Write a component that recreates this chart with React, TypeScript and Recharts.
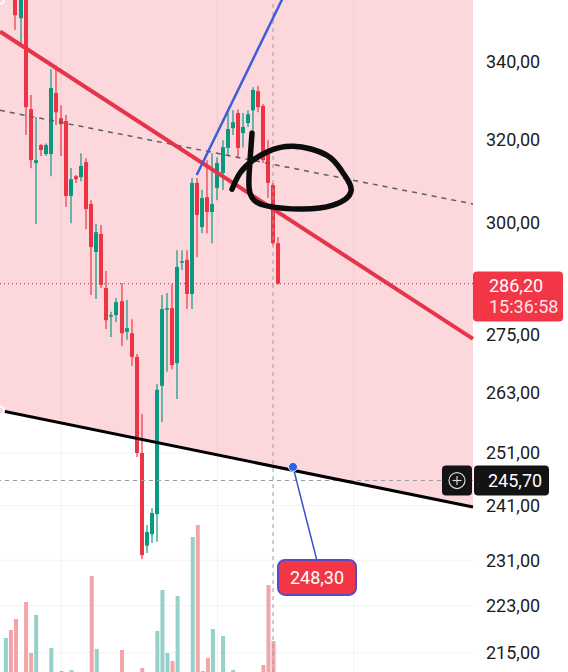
import React from "react";
import {
  ComposedChart,
  Bar,
  Area,
  Line,
  Cell,
  XAxis,
  YAxis,
  CartesianGrid,
  ReferenceLine,
  ReferenceDot,
} from "recharts";

const UP = "#089981";
const DOWN = "#ee3444";
const VOL_UP = "#95d1c9";
const VOL_DOWN = "#f1a5a9";
const BAND = "#fcd8dc";

// candles, oldest first (the first two sit above the visible price range)
const FIRST_INDEX = -2;
const OPEN = [
  366.0, 369.5, 361.0, 351.5, 357.5, 327.6, 314.2, 318.6, 316.4, 316.4, 331.7, 325.3, 324.6, 306.3,
  311.0, 310.8, 314.4, 304.4, 293.3, 297.4, 285.2, 279.1, 279.3, 282.3, 275.7, 275.4, 270.4, 251.0,
  233.6, 235.7, 239.4, 264.4, 280.6, 280.8, 269.1, 291.0, 291.5, 283.9, 309.4, 299.0, 306.0, 302.5,
  308.2, 311.8, 317.9, 322.8, 326.6, 321.6, 324.1, 327.3, 332.2, 328.4, 317.4, 308.9, 295.3,
];
const HIGH = [
  372.0, 371.0, 363.5, 360.0, 359.5, 331.2, 325.6, 318.9, 319.0, 337.9, 338.9, 328.6, 326.1, 313.0,
  311.3, 316.6, 315.4, 305.3, 299.7, 299.5, 289.0, 280.0, 283.0, 286.3, 282.6, 278.4, 271.0, 258.7,
  237.4, 240.5, 264.8, 283.7, 284.1, 286.1, 293.7, 293.7, 293.7, 310.6, 310.6, 307.7, 314.9, 316.6,
  315.6, 319.8, 326.6, 327.3, 327.5, 326.6, 327.3, 333.2, 333.5, 328.9, 319.8, 309.4, 296.7,
];
const LOW = [
  360.5, 358.0, 348.3, 344.2, 321.1, 313.0, 299.7, 315.9, 316.0, 311.0, 323.6, 315.9, 303.7, 299.9,
  309.4, 309.8, 298.5, 283.7, 282.8, 285.2, 276.3, 274.6, 277.8, 272.7, 274.0, 268.5, 250.2, 231.2,
  232.3, 234.1, 234.3, 257.1, 267.3, 267.8, 261.7, 289.2, 280.6, 280.6, 292.1, 297.6, 297.6, 295.3,
  305.3, 307.7, 316.1, 321.1, 315.6, 318.0, 323.1, 322.3, 326.8, 314.2, 305.8, 294.8, 286.0,
];
const CLOSE = [
  369.0, 360.0, 352.3, 358.0, 328.1, 314.9, 314.9, 317.4, 318.6, 333.0, 326.8, 323.8, 306.3, 310.3,
  310.3, 313.5, 303.2, 294.4, 297.8, 285.9, 278.2, 279.3, 282.1, 275.4, 276.5, 270.4, 251.0, 231.9,
  236.1, 239.6, 263.6, 280.6, 280.8, 268.7, 289.9, 291.2, 283.9, 309.4, 301.8, 305.8, 302.5, 304.4,
  314.2, 318.1, 322.6, 324.3, 317.9, 323.1, 326.3, 332.5, 328.1, 314.9, 309.4, 295.3, 286.2,
];
const VOLUME = [
  82, 90, 101, 30, 118, 67, 105, 35, 28, 72, 40, 49, 44, 50, 30, 25, 38, 144, 71, 42, 40, 22, 30, 70,
  28, 45, 46, 52, 35, 38, 89, 130, 67, 59, 124, 30, 45, 183, 195, 49, 62, 91, 42, 84, 40, 50, 44, 35,
  30, 46, 40, 55, 135, 79, 30,
];

const PRICE_DOMAIN = [204.1, 356.5];
const PRICE_TICKS = [340, 320, 300, 275, 263, 251, 241, 231, 223, 215];
const X_DOMAIN = [-3.07, 90.59];
const VOLUME_DOMAIN = [0, 720];
const GRID_X = [9, 40, 67];

// drawn trend lines: [bar index, price]
const RESISTANCE = [[-3.07, 347.9], [90.59, 274.2]];
const SUPPORT = [[-3.07, 259.4], [90.59, 240.7]];
const MIDLINE = [[-3.07, 327.3], [90.59, 304.4]];
const RISE = [[35.88, 311.3], [54.63, 362.0]];

const LAST_PRICE = 286.2;
const COUNTDOWN = "15:36:58";
const CROSS_PRICE = 245.7;
const CROSS_INDEX = 51;
const CALLOUT = { i: 54.95, price: 248.3 };

// hand-drawn loop
const SCRIBBLE_X = [46.83, 46.44, 46.24, 47.23, 50.0, 56.34, 62.87, 66.44, 64.85, 61.68, 54.95, 49.8, 46.83, 44.46, 42.87];
const SCRIBBLE_P = [321.6, 314.9, 308.4, 305.3, 303.9, 303.2, 304.1, 307.4, 311.8, 316.1, 318.3, 316.9, 314.7, 311.8, 307.9];

const CANDLES = OPEN.map((open, k) => ({
  i: k + FIRST_INDEX,
  open,
  high: HIGH[k],
  low: LOW[k],
  close: CLOSE[k],
  range: [LOW[k], HIGH[k]],
  volume: VOLUME[k],
}));

const BAND_DATA = SUPPORT.map(([i, p]) => ({ i, band: [p, PRICE_DOMAIN[1]] }));
const SCRIBBLE = SCRIBBLE_X.map((i, k) => ({ i, price: SCRIBBLE_P[k] }));

const fmt = (v: number) => v.toFixed(2).replace(".", ",");
const seg = (pts: number[][]) => pts.map(([x, y]) => ({ x, y }));

const Candle = (props: any) => {
  const { x, y, width, height, payload } = props;
  const { open, close, high, low } = payload;
  const color = close >= open ? UP : DOWN;
  const lh = Math.log(high);
  const ll = Math.log(low);
  const toY = (v: number) => (lh === ll ? y : y + (height * (lh - Math.log(v))) / (lh - ll));
  const top = toY(Math.max(open, close));
  const bottom = toY(Math.min(open, close));
  const bw = Math.max(4, Math.round(width));
  const bx = Math.round(x + width / 2 - bw / 2);
  return (
    <g>
      <line x1={bx + bw / 2} x2={bx + bw / 2} y1={y} y2={y + height} stroke={color} strokeWidth={1.2} />
      <rect x={bx} y={top} width={bw} height={Math.max(1.5, bottom - top)} fill={color} />
    </g>
  );
};

const LastPriceTag = ({ viewBox }: any) => {
  const right = viewBox.x + viewBox.width;
  const y = viewBox.y;
  return (
    <g>
      <rect x={right} y={y - 12} width={90} height={50} rx={4} fill="#f23645" />
      <text x={right + 16} y={y + 2} dominantBaseline="central" fill="#fff" fontSize={18}>
        {fmt(LAST_PRICE)}
      </text>
      <text x={right + 16} y={y + 23} dominantBaseline="central" fill="#fde3e5" fontSize={18}>
        {COUNTDOWN}
      </text>
    </g>
  );
};

const CrossTag = ({ viewBox }: any) => {
  const right = viewBox.x + viewBox.width;
  const y = viewBox.y;
  return (
    <g>
      <rect x={right - 31} y={y - 15} width={30} height={30} rx={4} fill="#131313" />
      <circle cx={right - 16} cy={y} r={8} fill="none" stroke="#d8d8d8" strokeWidth={1.2} />
      <line x1={right - 20.5} x2={right - 11.5} y1={y} y2={y} stroke="#d8d8d8" strokeWidth={1.2} />
      <line x1={right - 16} x2={right - 16} y1={y - 4.5} y2={y + 4.5} stroke="#d8d8d8" strokeWidth={1.2} />
      <rect x={right + 1} y={y - 15} width={75} height={30} rx={4} fill="#131313" />
      <text x={right + 15} y={y} dominantBaseline="central" fill="#fff" fontSize={18}>
        {fmt(CROSS_PRICE)}
      </text>
    </g>
  );
};

const Callout = ({ cx, cy }: any) => (
  <g>
    <line x1={cx} y1={cy} x2={cx + 24} y2={cy + 94} stroke="#3552c8" strokeWidth={1.5} />
    <rect x={cx - 15} y={cy + 93} width={78} height={35} rx={7} fill="#f23645" stroke="#5a4bbf" strokeWidth={2} />
    <text x={cx + 24} y={cy + 111} textAnchor="middle" dominantBaseline="central" fill="#fff" fontSize={18}>
      {fmt(CALLOUT.price)}
    </text>
    <circle cx={cx} cy={cy} r={4.5} fill="#2f62e6" stroke="#e8eeff" strokeWidth={1} />
  </g>
);

export default function App() {
  return (
    <div style={{ position: "fixed", left: 0, top: 0, width: 568, height: 672, overflow: "hidden", background: "#fff" }}>
      <ComposedChart
        width={568}
        height={720}
        data={CANDLES}
        margin={{ top: 0, right: 0, bottom: 0, left: 0 }}
        style={{ fontFamily: "Roboto, sans-serif" }}
      >
        <XAxis xAxisId="x" dataKey="i" type="number" domain={X_DOMAIN} allowDataOverflow hide />
        <XAxis xAxisId="xv" dataKey="i" type="number" domain={X_DOMAIN} allowDataOverflow hide />
        <YAxis
          yAxisId="p"
          orientation="right"
          scale="log"
          domain={PRICE_DOMAIN}
          allowDataOverflow
          ticks={PRICE_TICKS}
          interval={0}
          tickFormatter={fmt}
          width={95}
          axisLine={false}
          tickLine={false}
          tickSize={0}
          tickMargin={13}
          tick={{ fill: "#1c1c1c", fontSize: 18 }}
        />
        <YAxis yAxisId="v" hide domain={VOLUME_DOMAIN} allowDataOverflow />

        <Area
          xAxisId="x"
          yAxisId="p"
          data={BAND_DATA}
          dataKey="band"
          type="linear"
          fill={BAND}
          fillOpacity={1}
          stroke="none"
          isAnimationActive={false}
        />
        <CartesianGrid xAxisId="x" yAxisId="p" vertical={false} stroke="rgba(0,0,0,0.05)" />
        {GRID_X.map((gx) => (
          <ReferenceLine key={gx} xAxisId="x" yAxisId="p" x={gx} stroke="rgba(0,0,0,0.05)" />
        ))}
        <ReferenceLine xAxisId="x" yAxisId="p" x={CROSS_INDEX} stroke="#9a9ca3" strokeDasharray="4 4" />
        <ReferenceLine
          xAxisId="x"
          yAxisId="p"
          y={CROSS_PRICE}
          stroke="#9a9ca3"
          strokeDasharray="4 4"
          label={<CrossTag />}
        />

        <Bar xAxisId="xv" yAxisId="v" dataKey="volume" barSize={4} isAnimationActive={false}>
          {CANDLES.map((d) => (
            <Cell key={d.i} fill={d.close >= d.open ? VOL_UP : VOL_DOWN} />
          ))}
        </Bar>
        <Bar xAxisId="x" yAxisId="p" dataKey="range" barSize={4} shape={Candle} isAnimationActive={false} />

        <ReferenceLine xAxisId="x" yAxisId="p" segment={seg(MIDLINE)} ifOverflow="visible" stroke="#5f5f5f" strokeWidth={1.5} strokeDasharray="5 5" />
        <ReferenceLine xAxisId="x" yAxisId="p" segment={seg(RESISTANCE)} ifOverflow="visible" stroke="#e6354a" strokeWidth={4} />
        <ReferenceLine xAxisId="x" yAxisId="p" segment={seg(RISE)} ifOverflow="hidden" stroke="#3d5ddb" strokeWidth={2.5} />
        <ReferenceLine xAxisId="x" yAxisId="p" segment={seg(SUPPORT)} ifOverflow="visible" stroke="#000" strokeWidth={3} />

        <Line
          xAxisId="x"
          yAxisId="p"
          data={SCRIBBLE}
          dataKey="price"
          type="natural"
          stroke="#0c0c0c"
          strokeWidth={5.5}
          strokeLinecap="round"
          strokeLinejoin="round"
          dot={false}
          activeDot={false}
          isAnimationActive={false}
        />

        <ReferenceLine
          xAxisId="x"
          yAxisId="p"
          y={LAST_PRICE}
          stroke="#e6354a"
          strokeDasharray="1 3"
          strokeWidth={1.2}
          label={<LastPriceTag />}
        />
        <ReferenceDot xAxisId="x" yAxisId="p" x={CALLOUT.i} y={CALLOUT.price} r={4} shape={Callout} />
      </ComposedChart>
    </div>
  );
}
